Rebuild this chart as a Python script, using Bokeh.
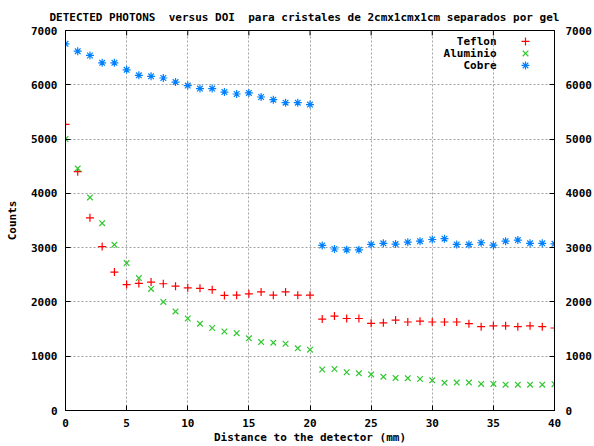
from bokeh.plotting import figure
from bokeh.models import LinearAxis, FixedTicker, Label, Title, Range1d
from bokeh.embed import file_html
from bokeh.resources import INLINE

# ---- data ----
distance_mm = list(range(41))
teflon = [5270, 4400, 3550, 3020, 2550, 2320, 2340, 2365, 2335, 2290,
          2260, 2250, 2225, 2120, 2125, 2150, 2185, 2125, 2185, 2125,
          2125, 1685, 1740, 1695, 1695, 1605, 1615, 1665, 1630, 1645,
          1630, 1630, 1630, 1600, 1545, 1560, 1560, 1545, 1560, 1545,
          1520]
aluminio = [5000, 4460, 3925, 3450, 3055, 2715, 2440, 2240, 2000, 1825,
            1695, 1600, 1520, 1455, 1425, 1330, 1260, 1250, 1230, 1145,
            1120, 755, 765, 705, 685, 665, 620, 600, 595, 580,
            555, 510, 515, 515, 490, 490, 475, 475, 475, 475,
            485]
cobre = [6755, 6620, 6540, 6405, 6405, 6275, 6175, 6155, 6125, 6050,
         5985, 5930, 5930, 5865, 5830, 5850, 5775, 5725, 5670, 5670,
         5635, 3040, 2975, 2960, 2960, 3060, 3080, 3065, 3100, 3120,
         3150, 3165, 3060, 3060, 3090, 3045, 3120, 3140, 3080, 3080,
         3070]
series_names = ["Teflon", "Aluminio", "Cobre"]
x_ticks = [0, 5, 10, 15, 20, 25, 30, 35, 40]
y_ticks = [0, 1000, 2000, 3000, 4000, 5000, 6000, 7000]
# non-breaking spaces keep the double spaces of the original title
title_text = "DETECTED PHOTONS\u00a0 versus DOI\u00a0 para cristales de 2cmx1cmx1cm separados por gel"

FONT = "DejaVu Sans Mono"
FS = "11px"

W, H = 594, 446
L, R, T, B = 65, 40, 30, 35
XMIN, XMAX, YMIN, YMAX = 0, 40, 0, 7000

p = figure(width=W, height=H, x_range=Range1d(XMIN, XMAX), y_range=Range1d(YMIN, YMAX),
           output_backend="svg", toolbar_location=None,
           min_border_left=L, min_border_right=R, min_border_top=T, min_border_bottom=B,
           x_axis_label="Distance to the detector (mm)", y_axis_label="Counts")
p.background_fill_color = "white"
p.border_fill_color = "white"
p.outline_line_color = "black"
p.outline_line_width = 1

def style_axis(ax, ticks):
    ax.ticker = FixedTicker(ticks=ticks)
    ax.major_label_text_font = FONT
    ax.major_label_text_font_size = FS
    ax.major_label_text_font_style = "bold"
    ax.major_label_text_color = "black"
    ax.major_tick_in = 5
    ax.major_tick_out = 0
    ax.minor_tick_line_color = None
    ax.axis_line_color = "black"
    ax.major_tick_line_color = "black"
    ax.axis_label_text_font = FONT
    ax.axis_label_text_font_size = FS
    ax.axis_label_text_font_style = "bold"
    ax.axis_label_text_color = "black"

style_axis(p.xaxis[0], x_ticks)
style_axis(p.yaxis[0], y_ticks)
p.xaxis[0].major_label_standoff = 8
p.xaxis[0].axis_label_standoff = 1
p.yaxis[0].major_label_standoff = 8
p.yaxis[0].axis_label_standoff = 9

right = LinearAxis()
style_axis(right, y_ticks)
right.major_label_standoff = 11
p.add_layout(right, "right")

p.add_layout(Title(text=title_text, align="left", offset=-16, standoff=13,
                   text_font=FONT, text_font_size=FS, text_font_style="bold",
                   text_color="black"), "above")

for g in (p.xgrid[0], p.ygrid[0]):
    g.grid_line_color = "#a0a0a0"
    g.grid_line_dash = "2 2"
    g.grid_line_width = 1
p.xgrid[0].ticker = FixedTicker(ticks=x_ticks)
p.ygrid[0].ticker = FixedTicker(ticks=y_ticks)

fw, fh = W - L - R, H - T - B
def px_to_x(px):
    return XMIN + (px - L) / fw * (XMAX - XMIN)
def py_to_y(py):
    return YMIN + (H - B - py) / fh * (YMAX - YMIN)

# mirrored inward ticks on the top border (gnuplot style)
tick_len = (YMAX - YMIN) * 5 / fh
p.segment(x0=x_ticks, y0=[YMAX] * len(x_ticks), x1=x_ticks,
          y1=[YMAX - tick_len] * len(x_ticks), line_color="black", line_width=1)

colors = ["#ff0000", "#2ec82e", "#0080ff"]
markers = ["cross", "x", "asterisk"]
values = [teflon, aluminio, cobre]
for vals, col, mk in zip(values, colors, markers):
    p.scatter(distance_mm, vals, marker=mk, size=8, line_color=col, line_width=1.2,
              fill_color=None)

# ---- gnuplot-style key (text left of symbol), placed from pixel offsets ----
for i, (name, col, mk) in enumerate(zip(series_names, colors, markers)):
    yy = py_to_y(41 + 12 * i)
    p.add_layout(Label(x=px_to_x(496), y=yy, text=name, text_align="right",
                       text_baseline="middle", text_font=FONT, text_font_size=FS,
                       text_font_style="bold", text_color="black"))
    p.scatter([px_to_x(525)], [yy], marker=mk, size=8, line_color=col,
              line_width=1.2, fill_color=None)

open("out.html", "w").write(file_html(p, INLINE))
